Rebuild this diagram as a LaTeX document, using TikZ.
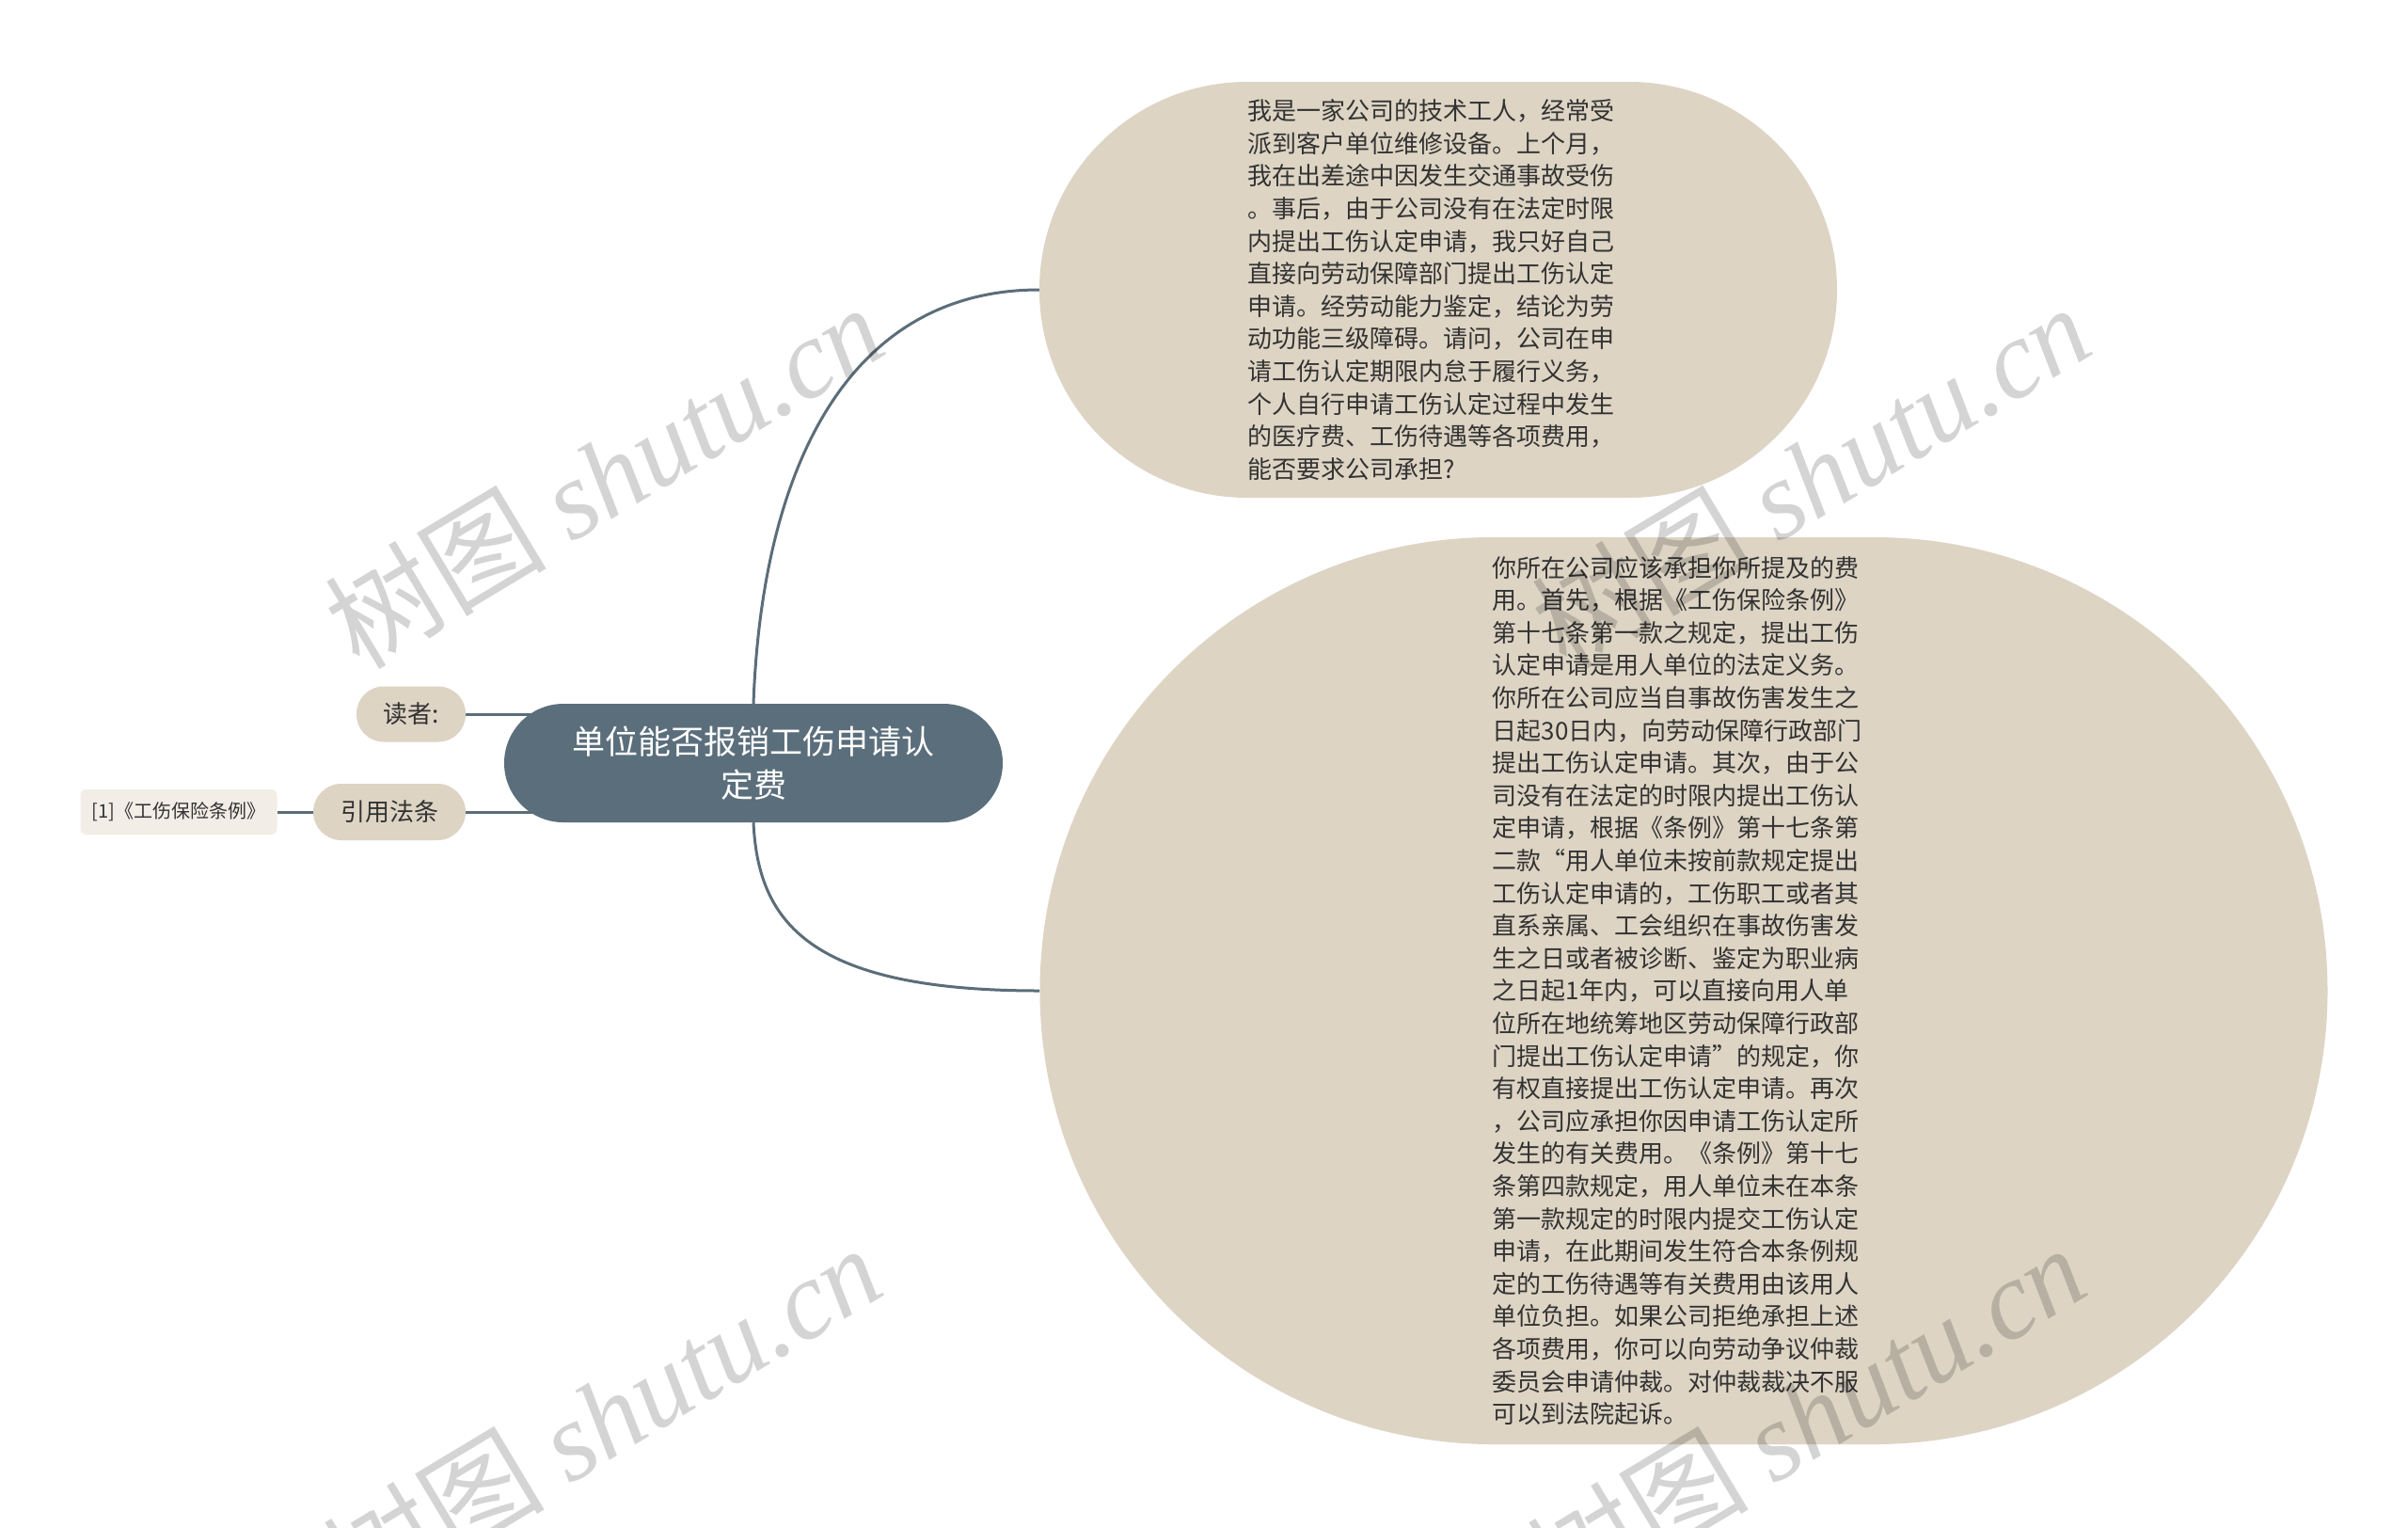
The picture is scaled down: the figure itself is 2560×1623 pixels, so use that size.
\documentclass[tikz,border=0pt]{standalone}
\usepackage{fontspec}
\setmainfont{Noto Sans CJK SC}
\newfontfamily\wmlatin{Liberation Serif}
\usetikzlibrary{backgrounds}
\definecolor{slate}{HTML}{5B6E7B}
\definecolor{beige}{HTML}{DDD4C4}
\definecolor{pale}{HTML}{F2EDE6}
\definecolor{ink}{HTML}{333333}
\definecolor{linkc}{HTML}{5B6D78}
\begin{document}
\begin{tikzpicture}[x=1pt,y=-1pt,
  root/.style={fill=slate, text=white, rounded corners=63pt, minimum width=530pt, minimum height=126pt, align=center, inner sep=0pt, font=\fontsize{35pt}{46pt}\selectfont},
  pill/.style={fill=beige, text=ink, inner sep=0pt, font=\fontsize{26pt}{32pt}\selectfont},
  bubble/.style={fill=beige, inner sep=0pt},
  bubbletext/.style={text=ink, align=left, inner sep=0pt, font=\fontsize{26pt}{34.6pt}\selectfont},
  leaf/.style={fill=pale, text=ink, rounded corners=6pt, inner sep=0pt, minimum width=209pt, minimum height=48pt, font=\fontsize{20pt}{24pt}\selectfont},
  link/.style={draw=linkc, line width=3pt},
  wm/.style={text=black, text opacity=0.17, rotate=31, inner sep=0pt, font=\fontsize{118pt}{130pt}\selectfont}
]
\useasboundingbox (0,0) rectangle (2560,1623);

\node[root] (c) at (801,811) {单位能否报销工伤申请认\\定费};
\node[pill, rounded corners=29pt, minimum width=116pt, minimum height=59pt] (r) at (437,759) {读者:};
\node[pill, rounded corners=30pt, minimum width=162pt, minimum height=60pt] (l) at (414,863) {引用法条};
\node[leaf] (ref) at (190,863) {[1]《工伤保险条例》};

\node[bubble, rounded corners=221pt, minimum width=848pt, minimum height=442pt] (q) at (1529,308) {};
\node[bubbletext] (qt) at ([xshift=-8pt]q.center) {我是一家公司的技术工人，经常受\\派到客户单位维修设备。上个月，\\我在出差途中因发生交通事故受伤\\。事后，由于公司没有在法定时限\\内提出工伤认定申请，我只好自己\\直接向劳动保障部门提出工伤认定\\申请。经劳动能力鉴定，结论为劳\\动功能三级障碍。请问，公司在申\\请工伤认定期限内怠于履行义务，\\个人自行申请工伤认定过程中发生\\的医疗费、工伤待遇等各项费用，\\能否要求公司承担?};

\node[bubble, rounded corners=482pt, minimum width=1369pt, minimum height=964pt] (a) at (1790,1053) {};
\node[bubbletext] (at) at ([xshift=-7pt]a.center) {你所在公司应该承担你所提及的费\\用。首先，根据《工伤保险条例》\\第十七条第一款之规定，提出工伤\\认定申请是用人单位的法定义务。\\你所在公司应当自事故伤害发生之\\日起30日内，向劳动保障行政部门\\提出工伤认定申请。其次，由于公\\司没有在法定的时限内提出工伤认\\定申请，根据《条例》第十七条第\\二款“用人单位未按前款规定提出\\工伤认定申请的，工伤职工或者其\\直系亲属、工会组织在事故伤害发\\生之日或者被诊断、鉴定为职业病\\之日起1年内，可以直接向用人单\\位所在地统筹地区劳动保障行政部\\门提出工伤认定申请”的规定，你\\有权直接提出工伤认定申请。再次\\，公司应承担你因申请工伤认定所\\发生的有关费用。《条例》第十七\\条第四款规定，用人单位未在本条\\第一款规定的时限内提交工伤认定\\申请，在此期间发生符合本条例规\\定的工伤待遇等有关费用由该用人\\单位负担。如果公司拒绝承担上述\\各项费用，你可以向劳动争议仲裁\\委员会申请仲裁。对仲裁裁决不服\\可以到法院起诉。};

\begin{scope}[on background layer]
\fill[white] (0,0) rectangle (2560,1623);
\draw[link] (c.north) .. controls (810,500) and (900,308) .. (q.west);
\draw[link] (c.south) .. controls (806,980) and (860,1053) .. (a.west);
\draw[link] (r.east) -- ([xshift=60pt]c.west |- r.east);
\draw[link] (l.east) -- ([xshift=60pt]c.west |- l.east);
\draw[link] (l.west) -- (ref.east);
\end{scope}

\node[wm] (w1) at (642,505) {树图 {\wmlatin\itshape shutu.cn}};
\node[wm] (w2) at (1925,505) {树图 {\wmlatin\itshape shutu.cn}};
\node[wm] (w3) at (640,1505) {树图 {\wmlatin\itshape shutu.cn}};
\node[wm] (w4) at (1920,1505) {树图 {\wmlatin\itshape shutu.cn}};
\end{tikzpicture}
\end{document}
